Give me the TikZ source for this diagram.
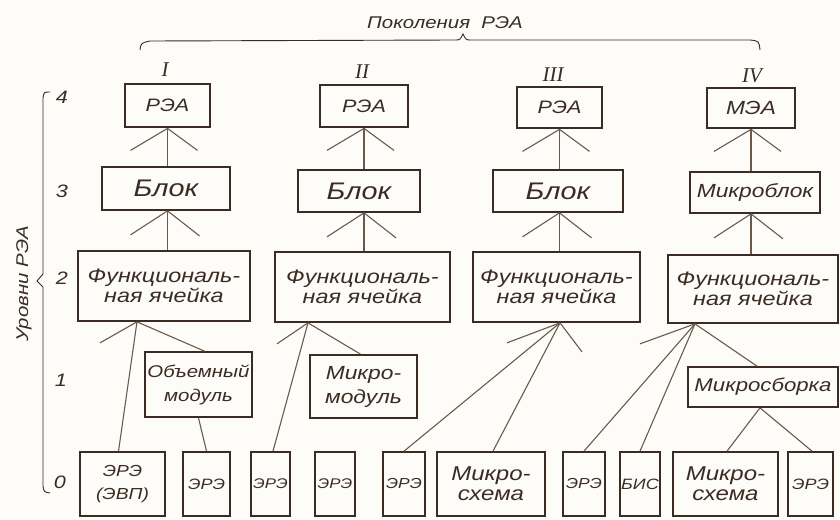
\documentclass[tikz,border=0pt]{standalone}
\usepackage{fontspec}
\newfontfamily\hand[FakeStretch=1.2]{Liberation Sans}
\newfontfamily\romfont{Liberation Serif}
\newcommand\hf[2]{\hand\itshape\fontsize{#1pt}{#2pt}\selectfont}
\definecolor{ink}{HTML}{3A2C22}
\definecolor{lnk}{HTML}{6A5A4C}
\definecolor{paper}{HTML}{FDFCF9}
\tikzset{
  bx/.style={draw=ink, line width=1.7pt, inner sep=0pt, align=center, text=ink},
  topbx/.style={bx, line width=2.8pt},
  ln/.style={draw=lnk, line width=1.1pt},
  lbl/.style={text=ink, inner sep=0pt},
}
\begin{document}
\begin{tikzpicture}[x=1pt,y=-1pt]
\path[fill=paper] (0,0) rectangle (840,519);
\useasboundingbox (0,0) rectangle (840,519);

% headings
\node[lbl, font=\hf{17}{18}] (gen) at (445,23) {Поколения\ \ РЭА};
\draw[ink, line width=0.9pt] (140,50) .. controls (141,43) .. (150,41) -- (455,40)
  .. controls (460,40) .. (463,34) .. controls (466,40) .. (471,40) -- (750,40)
  .. controls (759,41) .. (760,50);
\node[lbl, font=\romfont\itshape\fontsize{21pt}{22pt}\selectfont] (r1) at (165,70) {I};
\node[lbl, font=\romfont\itshape\fontsize{21pt}{22pt}\selectfont] (r2) at (362,72) {II};
\node[lbl, font=\romfont\itshape\fontsize{21pt}{22pt}\selectfont] (r3) at (553,75) {III};
\node[lbl, font=\romfont\itshape\fontsize{21pt}{22pt}\selectfont] (r4) at (752,76) {IV};

% levels axis
\node[lbl, font=\hf{17}{18}, rotate=90] (lev) at (24,284) {Уровни РЭА};
\draw[ink, line width=0.9pt] (50,92) .. controls (44,92) .. (43,98) -- (43,274)
  -- (37,281) -- (43,287) -- (43,486) .. controls (44,492) .. (50,493);
\node[lbl, font=\hf{18}{18}] (n4) at (62,97) {4};
\node[lbl, font=\hf{18}{18}] (n3) at (62,191) {3};
\node[lbl, font=\hf{18}{18}] (n2) at (62,278) {2};
\node[lbl, font=\hf{18}{18}] (n1) at (61,380) {1};
\node[lbl, font=\hf{18}{18}] (n0) at (60,482) {0};

% level 4
\node[topbx, minimum width=85pt, minimum height=43pt, font=\hf{18}{18}] (t1) at (167.5,105.5) {РЭА};
\node[topbx, minimum width=88pt, minimum height=42pt, font=\hf{18}{18}] (t2) at (364,106) {РЭА};
\node[topbx, minimum width=85pt, minimum height=41pt, font=\hf{18}{18}] (t3) at (559.5,107.5) {РЭА};
\node[topbx, minimum width=88pt, minimum height=40pt, font=\hf{19}{18}] (t4) at (751,108) {МЭА};

% level 3
\node[bx, minimum width=128pt, minimum height=43pt, font=\hf{24}{26}] (b1) at (166,188.5) {Блок};
\node[bx, minimum width=122pt, minimum height=42pt, font=\hf{24}{26}] (b2) at (359,191) {Блок};
\node[bx, minimum width=130pt, minimum height=42pt, font=\hf{24}{26}] (b3) at (558,191) {Блок};
\node[bx, minimum width=130pt, minimum height=41pt, font=\hf{19}{21}] (b4) at (755,192.5) {Микроблок};

% level 2
\node[bx, minimum width=172pt, minimum height=70pt, font=\hf{19.5}{20}] (f1) at (164,286) {Функциональ-\\ная ячейка};
\node[bx, minimum width=175pt, minimum height=70pt, font=\hf{19.5}{20}] (f2) at (362.5,287) {Функциональ-\\ная ячейка};
\node[bx, minimum width=167pt, minimum height=70pt, font=\hf{19.5}{20}] (f3) at (556.5,287) {Функциональ-\\ная ячейка};
\node[bx, minimum width=170pt, minimum height=68pt, font=\hf{19.5}{20}] (f4) at (753,289) {Функциональ-\\ная ячейка};

% level 1
\node[bx, minimum width=107pt, minimum height=65pt, font=\hf{17}{24}] (m1) at (198.5,384.5) {Объемный\\модуль};
\node[bx, minimum width=107pt, minimum height=63pt, font=\hf{19}{24}] (m2) at (363.5,386.5) {Микро-\\модуль};
\node[bx, minimum width=150pt, minimum height=40pt, font=\hf{18.5}{20}] (m3) at (763,387) {Микросборка};

% level 0
\node[bx, minimum width=85pt, minimum height=64pt, font=\hf{16}{23}] (e1) at (122.5,484) {ЭРЭ\\(ЭВП)};
\node[bx, minimum width=47pt, minimum height=64pt, font=\hf{15}{15}] (e2) at (206.5,484) {ЭРЭ};
\node[bx, minimum width=39pt, minimum height=64pt, font=\hf{14}{15}] (e3) at (270.5,484) {ЭРЭ};
\node[bx, minimum width=40pt, minimum height=64pt, font=\hf{14}{15}] (e4) at (335,484) {ЭРЭ};
\node[bx, minimum width=42pt, minimum height=64pt, font=\hf{14.5}{15}] (e5) at (404,484) {ЭРЭ};
\node[bx, minimum width=108pt, minimum height=64pt, font=\hf{20}{20}] (e6) at (491,484) {Микро-\\схема};
\node[bx, minimum width=42pt, minimum height=64pt, font=\hf{14.5}{15}] (e7) at (584,484) {ЭРЭ};
\node[bx, minimum width=40pt, minimum height=64pt, font=\hf{15}{15}] (e8) at (640,484) {БИС};
\node[bx, minimum width=105pt, minimum height=64pt, font=\hf{20}{20}] (e9) at (725.5,484) {Микро-\\схема};
\node[bx, minimum width=45pt, minimum height=64pt, font=\hf{15}{15}] (e10) at (810.5,484) {ЭРЭ};

% connectors level 4 -> 3 and 3 -> 2
\foreach \i in {1,2,3,4}{
  \coordinate (p\i) at (t\i.south);
  \coordinate (q\i) at (t\i.south |- b\i.south);
  \draw[ln] (p\i) -- (t\i.south |- b\i.north);
  \draw[ln] (p\i) -- ++(-37,22);
  \draw[ln] (p\i) -- ++(30,22);
  \draw[ln] (q\i) -- (t\i.south |- f\i.north);
  \draw[ln] (q\i) -- ++(-37,24);
  \draw[ln] (q\i) -- ++(32,25);
}

% level 2 -> lower
\coordinate (a1) at ([xshift=-27pt]f1.south);
\draw[ln] (a1) -- ++(-37,21);
\draw[ln] (a1) -- ([xshift=6pt]m1.north);
\draw[ln] (a1) -- ([xshift=-4pt]e1.north);
\draw[ln] (m1.south) -- (e2.north);

\coordinate (a2) at ([xshift=-54.5pt]f2.south);
\draw[ln] (a2) -- ++(-31,21);
\draw[ln] (a2) -- ([xshift=-3pt]m2.north);
\draw[ln] (a2) -- ([xshift=2.5pt]e3.north);

\coordinate (a3) at ([xshift=3.5pt]f3.south);
\draw[ln] (a3) -- ++(-53,20);
\draw[ln] (a3) -- ++(22,29);
\draw[ln] (a3) -- (e5.north);
\draw[ln] (a3) -- ([xshift=2pt]e6.north);

\coordinate (a4) at ([xshift=-58pt]f4.south);
\draw[ln] (a4) -- ++(-55,20);
\draw[ln] (a4) -- (e7.north);
\draw[ln] (a4) -- (e8.north);
\draw[ln] (a4) -- ([xshift=-6pt]m3.north);

\coordinate (a5) at ([xshift=-3pt]m3.south);
\draw[ln] (a5) -- ([xshift=1.5pt]e9.north);
\draw[ln] (a5) -- ([xshift=1.5pt]e10.north);
\end{tikzpicture}
\end{document}
